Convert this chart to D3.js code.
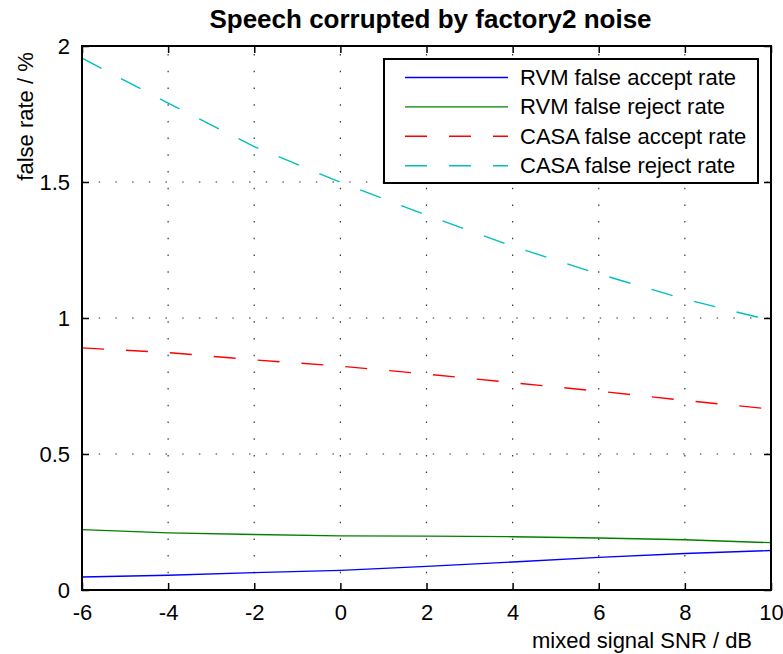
<!DOCTYPE html>
<html>
<head>
<meta charset="utf-8">
<script src="https://cdn.jsdelivr.net/npm/d3@7"></script>
<style>
  body { margin: 0; background: #fff; }
  svg { font-family: "Liberation Sans", Arial, sans-serif; }
</style>
</head>
<body>
<svg id="chart" width="783" height="654"></svg>
<script>
// SNR in dB
const SNR = [-6, -4, -2, 0, 2, 4, 6, 8, 10];

const RVM_FA = [0.048, 0.054, 0.064, 0.072, 0.087, 0.103, 0.120, 0.134, 0.145];
const RVM_FR = [0.222, 0.210, 0.204, 0.199, 0.198, 0.196, 0.191, 0.185, 0.174];
const CASA_FA = [0.890, 0.873, 0.846, 0.823, 0.794, 0.762, 0.731, 0.697, 0.665];
const CASA_FR = [1.955, 1.790, 1.630, 1.499, 1.378, 1.264, 1.162, 1.069, 0.991];

const X_TICKS = [-6, -4, -2, 0, 2, 4, 6, 8, 10];
const Y_TICKS = [0, 0.5, 1, 1.5, 2];

const SERIES = [
  { name: 'RVM false accept rate', values: RVM_FA, color: '#0000ff', dash: null },
  { name: 'RVM false reject rate', values: RVM_FR, color: '#008000', dash: null },
  { name: 'CASA false accept rate', values: CASA_FA, color: '#ff0000', dash: '22,22' },
  { name: 'CASA false reject rate', values: CASA_FR, color: '#00bfbf', dash: '22,22' }
];

function drawChart() {
  const svg = d3.select('#chart');

  const left = 82, right = 771, top = 46, bottom = 590;

  const x = d3.scaleLinear().domain([-6, 10]).range([left, right]);
  const y = d3.scaleLinear().domain([0, 2]).range([bottom, top]);

  // plain hyphen for negatives, like the original
  const fmt = d => String(d);

  // dotted grid
  const grid = svg.append('g')
    .attr('stroke', '#333')
    .attr('stroke-width', 1.2)
    .attr('stroke-dasharray', '1.5,15.2');

  grid.selectAll('line.gx')
    .data(X_TICKS.slice(1, -1))
    .enter()
    .append('line')
    .attr('x1', d => x(d)).attr('x2', d => x(d))
    .attr('y1', bottom).attr('y2', top);

  grid.selectAll('line.gy')
    .data(Y_TICKS.slice(1, -1))
    .enter()
    .append('line')
    .attr('x1', left).attr('x2', right)
    .attr('y1', d => y(d)).attr('y2', d => y(d));

  // data lines
  const line = d3.line()
    .x((d, i) => x(SNR[i]))
    .y(d => y(d));

  svg.append('g')
    .selectAll('path')
    .data(SERIES)
    .enter()
    .append('path')
    .attr('fill', 'none')
    .attr('stroke', d => d.color)
    .attr('stroke-width', 1.4)
    .attr('stroke-dasharray', d => d.dash)
    .attr('d', d => line(d.values));

  // axes, with inward ticks on all four sides
  const tickLen = 7;
  const axisStyle = g => {
    g.select('.domain').remove();
    g.selectAll('.tick line').attr('stroke', '#000').attr('stroke-width', 1.5);
    g.selectAll('.tick text')
      .attr('fill', '#000')
      .attr('font-size', 22)
      .attr('font-family', '"Liberation Sans", Arial, sans-serif');
  };

  svg.append('g')
    .attr('transform', `translate(0,${bottom})`)
    .call(d3.axisBottom(x).tickValues(X_TICKS).tickFormat(fmt)
      .tickSizeInner(-tickLen).tickSizeOuter(0).tickPadding(14))
    .call(axisStyle);

  svg.append('g')
    .attr('transform', `translate(0,${top})`)
    .call(d3.axisTop(x).tickValues(X_TICKS).tickFormat('')
      .tickSizeInner(-tickLen).tickSizeOuter(0))
    .call(axisStyle);

  svg.append('g')
    .attr('transform', `translate(${left},0)`)
    .call(d3.axisLeft(y).tickValues(Y_TICKS).tickFormat(fmt)
      .tickSizeInner(-tickLen).tickSizeOuter(0).tickPadding(12))
    .call(axisStyle);

  svg.append('g')
    .attr('transform', `translate(${right},0)`)
    .call(d3.axisRight(y).tickValues(Y_TICKS).tickFormat('')
      .tickSizeInner(-tickLen).tickSizeOuter(0))
    .call(axisStyle);

  // plot box
  svg.append('rect')
    .attr('x', left).attr('y', top)
    .attr('width', right - left).attr('height', bottom - top)
    .attr('fill', 'none')
    .attr('stroke', '#000')
    .attr('stroke-width', 2);

  // title and labels
  svg.append('text')
    .attr('x', (left + right) / 2 + 4)
    .attr('y', 28)
    .attr('text-anchor', 'middle')
    .attr('font-size', 26)
    .attr('font-weight', 'bold')
    .text('Speech corrupted by factory2 noise');

  svg.append('text')
    .attr('x', 642)
    .attr('y', 648)
    .attr('text-anchor', 'middle')
    .attr('font-size', 22)
    .text('mixed signal SNR / dB');

  svg.append('text')
    .attr('transform', 'translate(33,116.5) rotate(-90)')
    .attr('text-anchor', 'middle')
    .attr('font-size', 22)
    .text('false rate / %');

  // legend
  const legend = svg.append('g');
  legend.append('rect')
    .attr('x', 384).attr('y', 59)
    .attr('width', 374).attr('height', 124)
    .attr('fill', '#fff')
    .attr('stroke', '#000')
    .attr('stroke-width', 2);

  const rows = legend.selectAll('g.row')
    .data(SERIES)
    .enter()
    .append('g')
    .attr('transform', (d, i) => `translate(0,${77.5 + i * 29.4})`);

  rows.append('line')
    .attr('x1', 405).attr('x2', 508)
    .attr('stroke', d => d.color)
    .attr('stroke-width', 1.4)
    .attr('stroke-dasharray', d => d.dash);

  rows.append('text')
    .attr('x', 520)
    .attr('dy', 7.5)
    .attr('font-size', 22)
    .text(d => d.name);
}

window.addEventListener('DOMContentLoaded', drawChart);
</script>
</body>
</html>
